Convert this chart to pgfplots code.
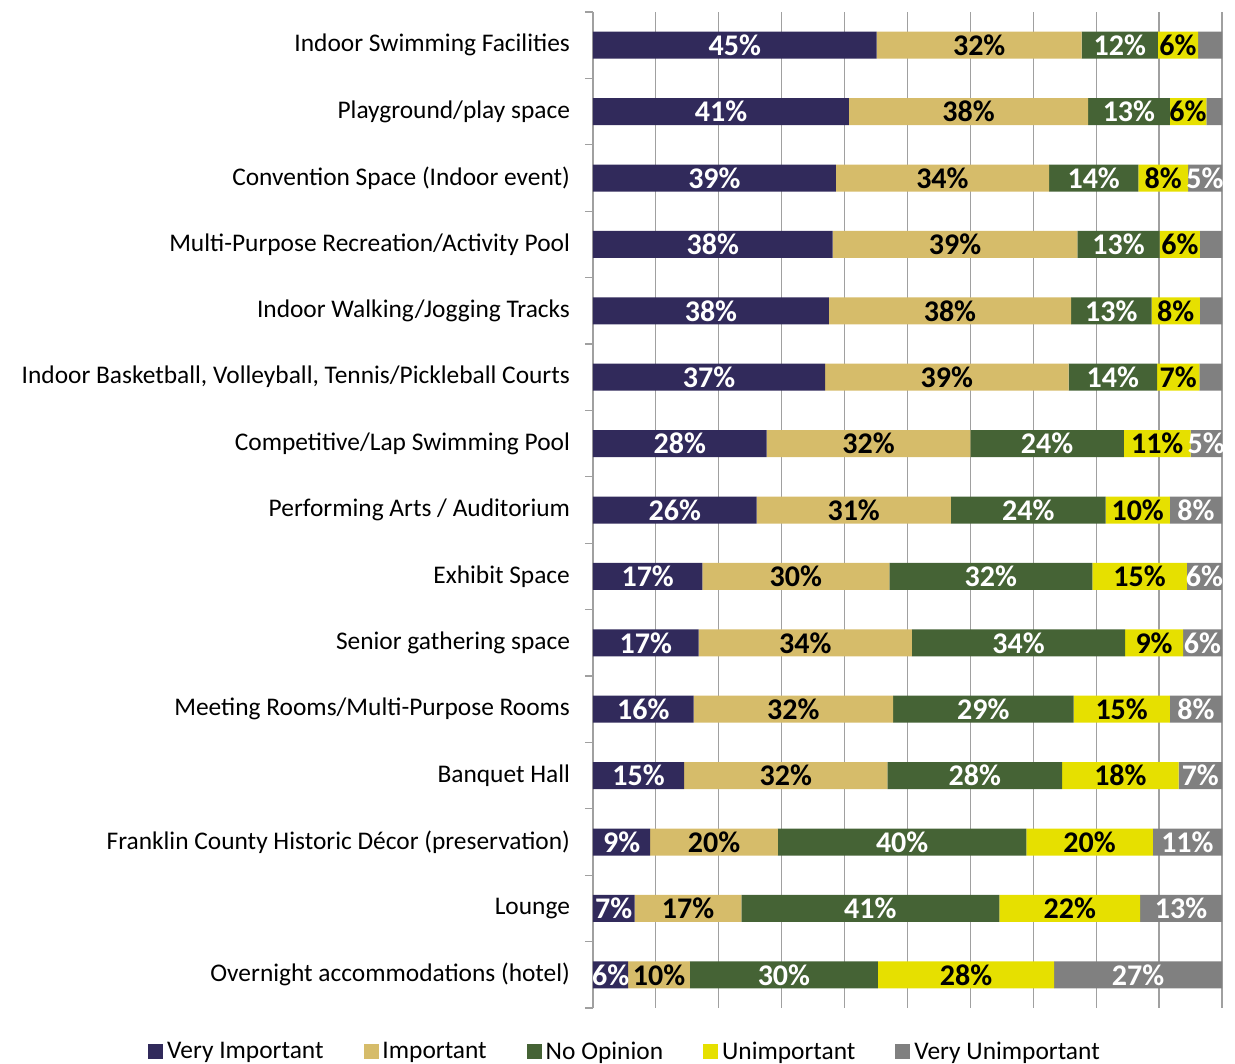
\documentclass[border=0pt]{standalone}
\usepackage{fontspec}
\setmainfont{Carlito}
\usepackage{pgfplots}
\pgfplotsset{compat=1.18}

\definecolor{vimp}{RGB}{49,42,91}
\definecolor{imp}{RGB}{214,188,106}
\definecolor{noop}{RGB}{69,99,53}
\definecolor{unimp}{RGB}{230,224,0}
\definecolor{vunimp}{RGB}{128,128,128}
\definecolor{gridc}{RGB}{160,160,160}

% label text: white or black, with percent sign
\newcommand\W[1]{\textcolor{white}{#1\%}}
\newcommand\K[1]{\textcolor{black}{#1\%}}

\begin{document}
\begin{tikzpicture}
\begin{axis}[
    name=ax,
    scale only axis,
    width=314.5bp, height=498bp,
    xbar stacked, bar width=13.5bp,
    xmin=0, xmax=100,
    ymin=-0.5, ymax=14.5, y dir=reverse,
    ytick={0,...,14},
    yticklabels={
        Indoor Swimming Facilities,
        Playground/play space,
        Convention Space (Indoor event),
        Multi-Purpose Recreation/Activity Pool,
        Indoor Walking/Jogging Tracks,
        {Indoor Basketball, Volleyball, Tennis/Pickleball Courts},
        Competitive/Lap Swimming Pool,
        Performing Arts / Auditorium,
        Exhibit Space,
        Senior gathering space,
        Meeting Rooms/Multi-Purpose Rooms,
        Banquet Hall,
        Franklin County Historic Décor (preservation),
        Lounge,
        Overnight accommodations (hotel)},
    minor ytick={-0.5,0.5,...,14.5},
    xtick={0,10,...,100}, xticklabels={},
    xmajorgrids,
    major grid style={gridc, line width=0.6bp},
    axis lines*=left,
    x axis line style={draw=none},
    y axis line style={gridc, line width=0.6bp},
    major tick length=0pt,
    minor tick length=4bp,
    tick align=outside,
    minor tick style={gridc, line width=0.6bp},
    yticklabel style={font=\fontsize{12.7bp}{14bp}\selectfont, text=black, xshift=-8bp},
    point meta=explicit symbolic,
    nodes near coords,
    every node near coord/.append style={
        anchor=center, inner sep=0pt,
        font=\bfseries\fontsize{15bp}{15bp}\selectfont},
    legend style={at={(axis description cs:0.0525,-0.044)}, anchor=center,
        draw=none, fill=none, legend columns=-1,
        font=\fontsize{12.7bp}{14bp}\selectfont,
        /tikz/every even column/.append style={column sep=18bp}},
    legend image code/.code={\fill[#1] (0bp,-3.75bp) rectangle (7.5bp,3.75bp);},
]

\addplot[fill=vimp, draw=none] coordinates {
    (45.1,0) [\W{45}] (40.7,1) [\W{41}] (38.6,2) [\W{39}] (38.1,3) [\W{38}] (37.5,4) [\W{38}]
    (36.9,5) [\W{37}] (27.6,6) [\W{28}] (26.0,7) [\W{26}] (17.4,8) [\W{17}] (16.8,9) [\W{17}]
    (16.0,10) [\W{16}] (14.5,11) [\W{15}] (9.1,12) [\W{9}] (6.6,13) [\W{7}] (5.6,14) [\W{6}]
};
\addplot[fill=imp, draw=none] coordinates {
    (32.6,0) [\K{32}] (38.0,1) [\K{38}] (33.9,2) [\K{34}] (38.9,3) [\K{39}] (38.5,4) [\K{38}]
    (38.7,5) [\K{39}] (32.4,6) [\K{32}] (30.9,7) [\K{31}] (29.7,8) [\K{30}] (33.9,9) [\K{34}]
    (31.7,10) [\K{32}] (32.3,11) [\K{32}] (20.3,12) [\K{20}] (17.0,13) [\K{17}] (9.8,14) [\K{10}]
};
\addplot[fill=noop, draw=none] coordinates {
    (12.1,0) [\W{12}] (13.0,1) [\W{13}] (14.2,2) [\W{14}] (13.1,3) [\W{13}] (12.8,4) [\W{13}]
    (14.1,5) [\W{14}] (24.4,6) [\W{24}] (24.6,7) [\W{24}] (32.3,8) [\W{32}] (33.9,9) [\W{34}]
    (28.7,10) [\W{29}] (27.8,11) [\W{28}] (39.5,12) [\W{40}] (41.0,13) [\W{41}] (29.9,14) [\W{30}]
};
\addplot[fill=unimp, draw=none] coordinates {
    (6.4,0) [\K{6}] (5.8,1) [\K{6}] (7.9,2) [\K{8}] (6.4,3) [\K{6}] (7.7,4) [\K{8}]
    (6.7,5) [\K{7}] (10.6,6) [\K{11}] (10.2,7) [\K{10}] (15.0,8) [\K{15}] (9.2,9) [\K{9}]
    (15.3,10) [\K{15}] (18.5,11) [\K{18}] (20.1,12) [\K{20}] (22.4,13) [\K{22}] (28.0,14) [\K{28}]
};
\addplot[fill=vunimp, draw=none] coordinates {
    (3.8,0) [] (2.5,1) [] (5.4,2) [\W{5}] (3.5,3) [] (3.5,4) []
    (3.6,5) [] (5.0,6) [\W{5}] (8.3,7) [\W{8}] (5.6,8) [\W{6}] (6.2,9) [\W{6}]
    (8.3,10) [\W{8}] (6.9,11) [\W{7}] (11.0,12) [\W{11}] (13.0,13) [\W{13}] (26.7,14) [\W{27}]
};
\legend{Very Important, Important, No Opinion, Unimportant, Very Unimportant}
\end{axis}
\pgfresetboundingbox
\path[use as bounding box] (ax.south west) ++(-296.5bp,-28bp) rectangle ([shift={(6.5bp,6bp)}]ax.north east);
\end{tikzpicture}
\end{document}
